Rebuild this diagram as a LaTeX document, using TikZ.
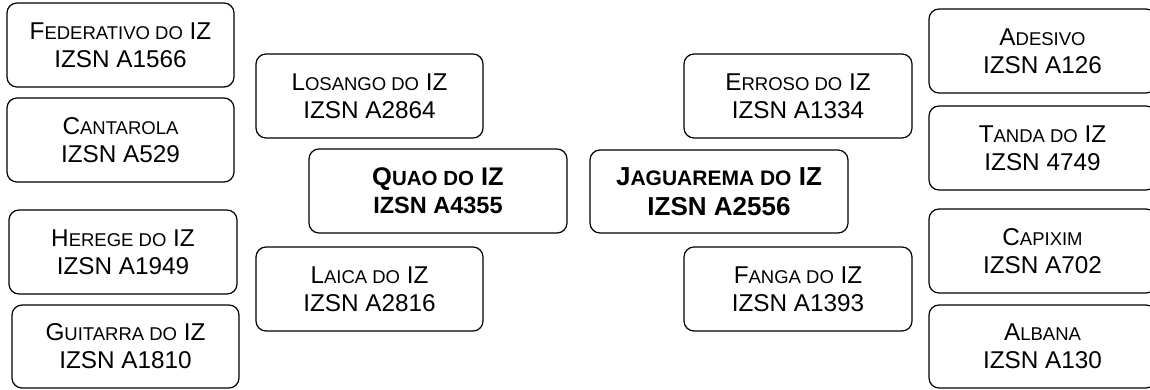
\documentclass[tikz,border=0pt]{standalone}
\usepackage{fontspec}
\setmainfont{Liberation Sans}
\newcommand\smc[1]{{\fontsize{18.5}{28}\selectfont #1}}
\newcommand\smcb[1]{{\fontsize{21}{30}\selectfont #1}}
\newcommand\quaoline[1]{{\fontsize{25.5}{28}\selectfont #1}}
\newcommand\smcq[1]{{\fontsize{20.5}{28}\selectfont #1}}
\begin{document}
\begin{tikzpicture}[x=1pt,y=-1pt,
  box/.style={draw=black, line width=1.2pt, rounded corners=10pt, align=center,
    inner sep=0pt, minimum width=227pt, minimum height=84pt,
    font=\fontsize{24.3}{28}\selectfont},
  mainbox/.style={box, minimum width=258pt, font=\bfseries\fontsize{23.5}{28}\selectfont},
  bigbox/.style={box, minimum width=258pt, minimum height=83pt, font=\bfseries\fontsize{26}{30}\selectfont}]
\useasboundingbox (0,0) rectangle (1150,389);
\node[box] (fed) at (120.5,45) {F\smc{EDERATIVO DO} IZ\\IZSN A1566};
\node[box] (cant) at (120.5,140) {C\smc{ANTAROLA}\\IZSN A529};
\node[box, minimum width=228pt] (her) at (123,252) {H\smc{EREGE DO} IZ\\IZSN A1949};
\node[box, minimum height=83pt] (gui) at (125.5,346.5) {G\smc{UITARRA DO} IZ\\IZSN A1810};
\node[box] (los) at (369.5,96) {L\smc{OSANGO DO} IZ\\IZSN A2864};
\node[mainbox] (quao) at (438,191) {\quaoline{Q\smcq{UAO DO} IZ}\\IZSN A4355};
\node[box] (lai) at (369.5,289) {L\smc{AICA DO} IZ\\IZSN A2816};
\node[bigbox] (jag) at (719,191.5) {J\smcb{AGUAREMA DO} IZ\\IZSN A2556};
\node[box, minimum width=228pt] (err) at (798,96) {E\smc{RROSO DO} IZ\\IZSN A1334};
\node[box, minimum width=228pt] (fan) at (798,289) {F\smc{ANGA DO} IZ\\IZSN A1393};
\node[box] (ade) at (1042.5,51) {A\smc{DESIVO}\\IZSN A126};
\node[box] (tan) at (1042.5,148) {T\smc{ANDA DO} IZ\\IZSN 4749};
\node[box] (cap) at (1042.5,251) {C\smc{APIXIM}\\IZSN A702};
\node[box, minimum height=83pt] (alb) at (1042.5,346.5) {A\smc{LBANA}\\IZSN A130};
\end{tikzpicture}
\end{document}
